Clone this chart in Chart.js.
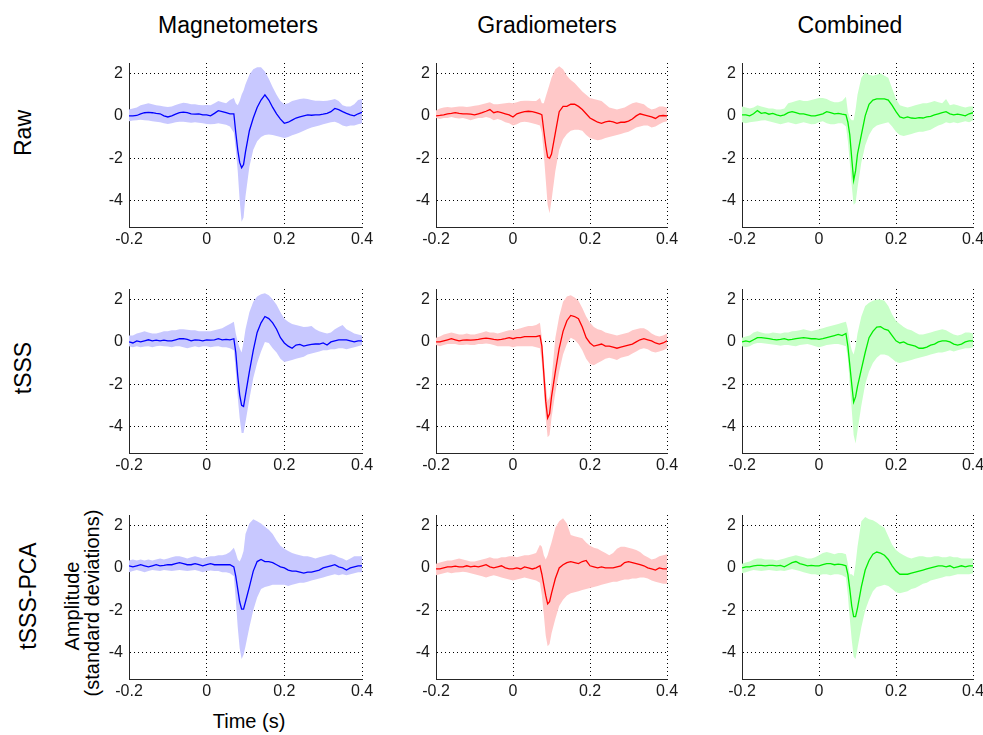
<!DOCTYPE html>
<html>
<head>
<meta charset="utf-8">
<title>Evoked responses</title>
<script src="https://cdn.jsdelivr.net/npm/chart.js@4.4.0/dist/chart.umd.min.js"></script>
<style>
  body { margin: 0; background: #fff; }
  #fig { position: relative; width: 983px; height: 735px; font-family: 'Liberation Sans', Arial, sans-serif; color: #000; }
  .panel { position: absolute; }
  .lbl { position: absolute; white-space: nowrap; transform: translate(-50%, -50%); line-height: 1; }
  .rot { transform: translate(-50%, -50%) rotate(-90deg); }
  .big { font-size: 23px; }
  .mid { font-size: 20px; }
</style>
</head>
<body>
<div id="fig">
  <div class="lbl big" style="left:238px; top:25px">Magnetometers</div>
  <div class="lbl big" style="left:547px; top:25px">Gradiometers</div>
  <div class="lbl big" style="left:850px; top:25px">Combined</div>

  <div class="lbl big rot" style="left:23px; top:133px">Raw</div>
  <div class="lbl big rot" style="left:23px; top:368px">tSSS</div>
  <div class="lbl big rot" style="left:28px; top:596px">tSSS-PCA</div>

  <div class="lbl mid rot" style="left:72px; top:606px">Amplitude</div>
  <div class="lbl mid rot" style="left:92px; top:603px">(standard deviations)</div>
  <div class="lbl mid" style="left:249px; top:721px">Time (s)</div>
</div>

<script>
// time axis (s)
const t = [
  -0.2, -0.19, -0.18, -0.17, -0.16, -0.15, -0.14, -0.13, -0.12, -0.11,
  -0.1, -0.09, -0.08, -0.07, -0.06, -0.05, -0.04, -0.03, -0.02, -0.01,
  0, 0.01, 0.02, 0.03, 0.04, 0.05, 0.06, 0.07, 0.075, 0.08,
  0.085, 0.09, 0.095, 0.1, 0.11, 0.12, 0.13, 0.14, 0.15, 0.16,
  0.17, 0.18, 0.19, 0.2, 0.21, 0.22, 0.23, 0.24, 0.25, 0.26,
  0.27, 0.28, 0.29, 0.3, 0.31, 0.32, 0.33, 0.34, 0.35, 0.36,
  0.37, 0.38, 0.39, 0.4
];

const xTicks = [-0.2, 0, 0.2, 0.4];
const xTickLabels = ['-0.2', '0', '0.2', '0.4'];
const yTicks = [-4, -2, 0, 2];
const yTickLabels = ['-4', '-2', '0', '2'];

const rowNames = ['Raw', 'tSSS', 'tSSS-PCA'];
const sensorNames = ['Magnetometers', 'Gradiometers', 'Combined'];

// ---- Raw ----
const magRawMean = [
  0, 0, 0.02, 0.1, 0.15, 0.17, 0.15, 0.12, 0.1, 0,
  -0.05, 0, 0.08, 0.15, 0.18, 0.15, 0.1, 0.08, 0.1, 0.05,
  0.05, 0, 0.12, 0.25, 0.2, 0.15, 0.1, 0.1, -0.8, -1.6,
  -2.2, -2.45, -2.3, -1.7, -0.7, -0.1, 0.4, 0.75, 1, 0.75,
  0.4, 0.1, -0.15, -0.35, -0.3, -0.2, -0.1, -0.05, 0, 0.05,
  0.03, 0.05, 0.05, 0.08, 0.12, 0.2, 0.35, 0.3, 0.2, 0.12,
  0.05, 0, 0.1, 0.17
];
const magRawHi = [
  0.3, 0.35, 0.4, 0.5, 0.55, 0.6, 0.55, 0.5, 0.48, 0.45,
  0.42, 0.45, 0.52, 0.58, 0.62, 0.6, 0.55, 0.55, 0.52, 0.5,
  0.52, 0.5, 0.6, 0.7, 0.65, 0.6, 0.75, 0.85, 0.6, 0.5,
  0.7, 1, 1.2, 1.5, 1.95, 2.2, 2.3, 2.3, 2.1, 1.75,
  1.35, 1, 0.7, 0.55, 0.6, 0.7, 0.75, 0.8, 0.82, 0.8,
  0.75, 0.72, 0.72, 0.7, 0.72, 0.75, 0.8, 0.7, 0.5, 0.45,
  0.45, 0.55, 0.75, 0.8
];
const magRawLo = [
  -0.25, -0.22, -0.2, -0.18, -0.2, -0.22, -0.25, -0.28, -0.3, -0.35,
  -0.38, -0.35, -0.3, -0.28, -0.28, -0.3, -0.32, -0.3, -0.32, -0.35,
  -0.38, -0.4, -0.38, -0.35, -0.38, -0.42, -0.5, -0.8, -1.6, -2.6,
  -4, -5, -4.8, -3.8, -2.4, -1.6, -1.2, -1, -0.9, -0.88,
  -0.9, -0.95, -1, -1.05, -1, -0.92, -0.85, -0.78, -0.7, -0.62,
  -0.55, -0.5, -0.45, -0.4, -0.35, -0.3, -0.28, -0.35, -0.45, -0.5,
  -0.45, -0.45, -0.4, -0.35
];

const gradRawMean = [
  0, 0.02, 0.05, 0.1, 0.12, 0.15, 0.12, 0.1, 0.1, 0.08,
  0.05, 0.1, 0.15, 0.22, 0.3, 0.15, 0.2, 0.15, 0.1, 0.05,
  -0.05, 0.1, 0.15, 0.2, 0.22, 0.2, 0.15, 0.1, 0.05, -0.7,
  -1.4, -1.95, -2, -1.8, -0.8, 0.2, 0.45, 0.45, 0.55, 0.55,
  0.45, 0.3, 0.1, -0.1, -0.2, -0.3, -0.35, -0.28, -0.25, -0.28,
  -0.35, -0.3, -0.3, -0.25, -0.15, 0, 0.1, 0.05, 0, -0.05,
  -0.12, 0, 0.02, 0
];
const gradRawHi = [
  0.25, 0.35, 0.4, 0.42, 0.4, 0.42, 0.45, 0.45, 0.42, 0.45,
  0.48, 0.5, 0.55, 0.6, 0.65, 0.55, 0.55, 0.58, 0.6, 0.62,
  0.6, 0.65, 0.7, 0.72, 0.72, 0.7, 0.7, 0.85, 0.6, 0.6,
  0.9, 1.2, 1.5, 1.8, 2.2, 2.35, 2.2, 1.9, 1.7, 1.55,
  1.35, 1.15, 1, 0.85, 0.8, 0.75, 0.7, 0.55, 0.4, 0.35,
  0.3, 0.35, 0.4, 0.5, 0.6, 0.65, 0.6, 0.55, 0.4, 0.3,
  0.35, 0.45, 0.45, 0.4
];
const gradRawLo = [
  -0.1, -0.15, -0.1, -0.1, -0.05, -0.1, -0.12, -0.1, -0.15, -0.2,
  -0.15, -0.1, -0.1, -0.05, -0.1, -0.2, -0.15, -0.2, -0.3, -0.35,
  -0.45, -0.4, -0.3, -0.28, -0.3, -0.35, -0.4, -0.45, -0.8, -1.8,
  -3, -4.2, -4.6, -4, -2.6, -1.6, -1.1, -0.85, -0.7, -0.65,
  -0.65, -0.7, -0.9, -1.05, -1.1, -1.15, -1.12, -1.05, -1, -0.95,
  -0.9, -0.85, -0.8, -0.75, -0.65, -0.55, -0.5, -0.45, -0.45, -0.55,
  -0.5, -0.4, -0.3, -0.25
];

const combRawMean = [
  0.05, 0.05, 0, 0.1, 0.25, 0.12, 0.15, 0.08, 0.12, 0.05,
  0, 0.05, 0.15, 0.2, 0.15, 0.1, 0.1, 0.05, 0, 0,
  0.05, 0.1, 0.2, 0.15, 0.1, 0.12, 0.08, 0.05, -0.3, -0.9,
  -2, -3.05, -2.6, -1.8, -0.9, 0, 0.55, 0.75, 0.8, 0.8,
  0.8, 0.75, 0.5, 0.2, -0.05, -0.1, -0.05, -0.1, -0.12, -0.08,
  -0.1, -0.05, -0.02, 0.05, 0.1, 0.15, 0.2, 0.1, 0.05, 0.08,
  0.05, 0, 0.1, 0.15
];
const combRawHi = [
  0.45, 0.4, 0.35, 0.4, 0.5, 0.45, 0.4, 0.35, 0.35, 0.3,
  0.3, 0.35, 0.6, 0.65, 0.7, 0.75, 0.7, 0.7, 0.75, 0.8,
  0.85, 0.85, 0.8, 0.7, 0.65, 0.65, 0.7, 0.9, 0.2, -0.1,
  -0.2, -0.2, 0.3, 1, 1.8, 2.05, 1.95, 1.9, 1.95, 2,
  1.9, 1.8, 1.3, 0.8, 0.5, 0.45, 0.4, 0.45, 0.5, 0.55,
  0.6, 0.6, 0.65, 0.7, 0.65, 0.6, 0.8, 0.5, 0.55, 0.5,
  0.45, 0.4, 0.45, 0.45
];
const combRawLo = [
  -0.3, -0.35, -0.3, -0.28, -0.25, -0.22, -0.2, -0.25, -0.3, -0.35,
  -0.4, -0.35, -0.3, -0.35, -0.4, -0.35, -0.3, -0.35, -0.4, -0.38,
  -0.3, -0.25, -0.35, -0.4, -0.4, -0.35, -0.35, -0.5, -1.2, -2.2,
  -3.3, -4.2, -4.1, -3.4, -2.2, -1.4, -0.9, -0.6, -0.45, -0.4,
  -0.35, -0.3, -0.5, -0.75, -0.9, -0.95, -0.9, -0.85, -0.8, -0.75,
  -0.75, -0.7, -0.65, -0.55, -0.45, -0.4, -0.3, -0.35, -0.3, -0.35,
  -0.3, -0.25, -0.3, -0.2
];

// ---- tSSS ----
const magTsssMean = [
  0, -0.05, 0.05, 0, 0.05, 0.1, 0.05, 0.08, 0.05, 0.08,
  0.05, 0.05, 0.1, 0.15, 0.15, 0.12, 0.05, 0.1, 0.08, 0.05,
  0.1, 0.08, 0.1, 0.15, 0.1, 0.12, 0.1, 0.15, -0.5, -1.6,
  -2.5, -3, -3.05, -2.5, -1.4, -0.4, 0.45, 0.9, 1.2, 1.1,
  0.9, 0.6, 0.2, -0.05, -0.2, -0.3, -0.15, -0.12, -0.2, -0.15,
  -0.12, -0.1, -0.1, -0.05, -0.15, 0, 0.05, 0.1, 0.1, 0.1,
  0.05, 0, 0.05, 0.05
];
const magTsssHi = [
  0.3, 0.3, 0.4, 0.45, 0.5, 0.45, 0.4, 0.4, 0.45, 0.5,
  0.5, 0.55, 0.55, 0.6, 0.6, 0.58, 0.55, 0.55, 0.5, 0.5,
  0.5, 0.5, 0.55, 0.6, 0.65, 0.75, 0.85, 0.95, 0.4, 0,
  -0.3, -0.5, 0, 0.6, 1.4, 1.9, 2.15, 2.25, 2.3, 2.2,
  2, 1.75, 1.4, 1.1, 0.95, 0.85, 0.8, 0.75, 0.7, 0.72,
  0.75, 0.6, 0.5, 0.45, 0.4, 0.45, 0.6, 0.7, 0.8, 0.6,
  0.5, 0.4, 0.35, 0.3
];
const magTsssLo = [
  -0.2, -0.25, -0.2, -0.25, -0.22, -0.2, -0.25, -0.2, -0.18, -0.2,
  -0.22, -0.25, -0.2, -0.2, -0.25, -0.3, -0.25, -0.2, -0.25, -0.2,
  -0.2, -0.25, -0.22, -0.2, -0.25, -0.25, -0.3, -0.4, -1.4, -2.6,
  -3.6, -4.3, -4.3, -3.8, -2.7, -1.7, -1, -0.45, 0, -0.05,
  -0.3, -0.5, -0.8, -0.95, -0.9, -0.85, -0.8, -0.75, -0.7, -0.6,
  -0.55, -0.5, -0.45, -0.4, -0.4, -0.35, -0.35, -0.3, -0.3, -0.35,
  -0.3, -0.25, -0.2, -0.15
];

const gradTsssMean = [
  0, 0, 0.05, 0.1, 0.15, 0.1, 0.05, 0.08, 0.1, 0.08,
  0.1, 0.12, 0.15, 0.18, 0.15, 0.12, 0.1, 0.12, 0.15, 0.2,
  0.15, 0.2, 0.2, 0.25, 0.25, 0.25, 0.25, 0.3, -0.2, -1.5,
  -2.8, -3.6, -3.4, -2.6, -1.4, -0.3, 0.5, 1, 1.25, 1.2,
  1.1, 0.7, 0.2, -0.05, -0.2, -0.15, -0.1, -0.2, -0.2, -0.25,
  -0.3, -0.25, -0.2, -0.15, -0.1, 0, 0.1, 0.15, 0.1, 0.05,
  -0.05, -0.1, -0.05, 0.05
];
const gradTsssHi = [
  0.2, 0.25, 0.35, 0.4, 0.45, 0.4, 0.35, 0.35, 0.4, 0.35,
  0.35, 0.4, 0.45, 0.5, 0.45, 0.45, 0.4, 0.45, 0.5, 0.55,
  0.55, 0.6, 0.65, 0.7, 0.75, 0.75, 0.8, 0.9, 0.2, -0.9,
  -2, -2.8, -2.6, -1.8, 0.2, 1.2, 1.9, 2.15, 2.2, 2.1,
  1.95, 1.6, 1.2, 0.9, 0.7, 0.6, 0.55, 0.45, 0.4, 0.35,
  0.3, 0.35, 0.4, 0.45, 0.55, 0.6, 0.65, 0.65, 0.55, 0.4,
  0.3, 0.25, 0.3, 0.4
];
const gradTsssLo = [
  -0.15, -0.2, -0.15, -0.1, -0.1, -0.1, -0.15, -0.15, -0.12, -0.15,
  -0.15, -0.1, -0.1, -0.08, -0.1, -0.15, -0.2, -0.2, -0.2, -0.2,
  -0.25, -0.2, -0.2, -0.2, -0.2, -0.2, -0.25, -0.3, -1, -2.2,
  -3.6, -4.5, -4.4, -3.6, -2.4, -1.4, -0.6, -0.1, 0.2, 0.1,
  -0.1, -0.4, -0.8, -1.05, -1.1, -1, -0.9, -0.8, -0.75, -0.8,
  -0.85, -0.75, -0.7, -0.65, -0.55, -0.45, -0.35, -0.3, -0.35, -0.45,
  -0.5, -0.45, -0.4, -0.3
];

const combTsssMean = [
  0, 0.05, 0, 0.1, 0.2, 0.2, 0.18, 0.15, 0.12, 0.1,
  0.12, 0.15, 0.1, 0.12, 0.15, 0.18, 0.2, 0.18, 0.15, 0.15,
  0.12, 0.15, 0.2, 0.25, 0.3, 0.35, 0.3, 0.4, -0.2, -1.1,
  -2, -2.85, -2.6, -2.1, -1.3, -0.5, 0.2, 0.5, 0.7, 0.72,
  0.6, 0.55, 0.3, 0.05, -0.05, 0, -0.1, -0.15, -0.2, -0.3,
  -0.3, -0.25, -0.15, -0.1, 0, 0.05, 0.05, 0, -0.1, -0.15,
  -0.1, 0, 0.05, 0.05
];
const combTsssHi = [
  0.2, 0.25, 0.3, 0.45, 0.5, 0.45, 0.4, 0.4, 0.45, 0.42,
  0.4, 0.45, 0.45, 0.5, 0.52, 0.55, 0.6, 0.55, 0.5, 0.55,
  0.6, 0.65, 0.7, 0.75, 0.8, 0.85, 0.9, 0.95, 0.6, 0,
  -0.4, -0.6, -0.2, 0.4, 1.2, 1.7, 1.85, 1.95, 2, 2,
  1.95, 1.7, 1.3, 1, 0.85, 0.7, 0.6, 0.55, 0.45, 0.35,
  0.35, 0.4, 0.45, 0.5, 0.55, 0.6, 0.55, 0.45, 0.35, 0.3,
  0.35, 0.45, 0.45, 0.4
];
const combTsssLo = [
  -0.2, -0.25, -0.2, -0.1, -0.05, -0.05, -0.08, -0.1, -0.12, -0.15,
  -0.18, -0.15, -0.15, -0.18, -0.2, -0.15, -0.12, -0.1, -0.15, -0.2,
  -0.25, -0.2, -0.15, -0.12, -0.1, -0.1, -0.15, -0.2, -0.8, -2,
  -3.2, -4.4, -4.8, -4.2, -3, -2, -1.4, -1, -0.75, -0.6,
  -0.6, -0.65, -0.8, -0.95, -1, -0.95, -0.9, -0.85, -0.8, -0.75,
  -0.7, -0.65, -0.6, -0.55, -0.5, -0.5, -0.45, -0.4, -0.45, -0.4,
  -0.35, -0.3, -0.3, -0.25
];

// ---- tSSS-PCA ----
const magPcaMean = [
  0.1, 0.05, 0.1, 0.15, 0.1, 0.05, 0.1, 0.15, 0.1, 0.12,
  0.15, 0.15, 0.2, 0.25, 0.2, 0.15, 0.15, 0.2, 0.15, 0.1,
  0.15, 0.2, 0.15, 0.15, 0.15, 0.15, 0.15, 0.05, -0.4, -1,
  -1.6, -1.95, -1.95, -1.6, -0.9, -0.15, 0.3, 0.4, 0.3, 0.3,
  0.25, 0.15, 0.05, 0, -0.1, -0.15, -0.15, -0.2, -0.25, -0.2,
  -0.2, -0.15, -0.1, 0, 0.05, 0.1, 0.15, 0.05, 0, -0.1,
  0, 0.05, 0.1, 0.1
];
const magPcaHi = [
  0.35, 0.4, 0.35, 0.4, 0.35, 0.4, 0.35, 0.4, 0.45, 0.4,
  0.45, 0.5, 0.55, 0.55, 0.5, 0.45, 0.5, 0.55, 0.5, 0.45,
  0.5, 0.55, 0.55, 0.6, 0.6, 0.65, 0.75, 0.95, 0.7, 0.4,
  0.3, 0.5, 0.8, 1.6, 2.1, 2.3, 2.2, 2.1, 1.95, 1.8,
  1.6, 1.3, 1.05, 0.9, 0.8, 0.7, 0.65, 0.6, 0.55, 0.55,
  0.5, 0.45, 0.5, 0.55, 0.6, 0.65, 0.6, 0.5, 0.45, 0.35,
  0.45, 0.55, 0.55, 0.55
];
const magPcaLo = [
  -0.2, -0.15, -0.1, -0.15, -0.2, -0.15, -0.1, -0.12, -0.15, -0.1,
  -0.12, -0.15, -0.12, -0.1, -0.12, -0.15, -0.12, -0.1, -0.15, -0.2,
  -0.15, -0.12, -0.15, -0.15, -0.2, -0.2, -0.25, -0.4, -1.5, -2.8,
  -3.8, -4.3, -4.1, -3.7, -2.8, -2, -1.4, -1, -0.9, -0.85,
  -0.8, -0.8, -0.8, -0.8, -0.85, -0.8, -0.75, -0.7, -0.7, -0.65,
  -0.6, -0.55, -0.5, -0.45, -0.4, -0.35, -0.3, -0.35, -0.3, -0.35,
  -0.3, -0.25, -0.2, -0.2
];

const gradPcaMean = [
  -0.05, -0.05, 0, 0.05, 0.05, 0.08, 0.05, 0.05, 0.1, 0.05,
  0.08, 0.05, 0.1, 0.15, 0.05, 0, 0.05, 0.1, 0, -0.05,
  -0.05, 0, -0.05, 0.05, 0, -0.05, 0, 0.1, -0.3, -0.8,
  -1.3, -1.7, -1.6, -1.2, -0.5, 0, 0.15, 0.25, 0.3, 0.25,
  0.2, 0.3, 0.35, 0.1, 0.05, 0, 0.05, 0, 0, 0,
  0.05, 0.1, 0.25, 0.3, 0.25, 0.2, 0.15, 0.1, 0, -0.05,
  -0.1, 0, -0.05, -0.05
];
const gradPcaHi = [
  0.2, 0.25, 0.3, 0.35, 0.35, 0.4, 0.45, 0.4, 0.35, 0.3,
  0.3, 0.35, 0.4, 0.45, 0.5, 0.45, 0.45, 0.5, 0.5, 0.55,
  0.55, 0.5, 0.55, 0.6, 0.6, 0.65, 0.7, 1.1, 1, 0.6,
  0.4, 0.6, 0.9, 1.2, 1.9, 2.2, 2.35, 2.1, 1.55, 1.5,
  1.45, 1.4, 1.2, 1.05, 0.95, 0.9, 0.8, 0.7, 0.6, 0.7,
  0.9, 1, 1, 0.95, 0.9, 0.85, 0.75, 0.6, 0.5, 0.4,
  0.45, 0.55, 0.6, 0.65
];
const gradPcaLo = [
  -0.35, -0.3, -0.25, -0.2, -0.25, -0.22, -0.2, -0.18, -0.2, -0.25,
  -0.3, -0.35, -0.4, -0.45, -0.4, -0.35, -0.4, -0.45, -0.5, -0.55,
  -0.6, -0.55, -0.5, -0.45, -0.5, -0.55, -0.6, -0.7, -1.3, -2.2,
  -3.2, -3.7, -3.6, -3.1, -2.4, -1.8, -1.5, -1.3, -1.2, -1.15,
  -1.1, -1.05, -1, -0.95, -0.9, -0.85, -0.8, -0.75, -0.7, -0.65,
  -0.65, -0.6, -0.55, -0.55, -0.5, -0.5, -0.45, -0.45, -0.5, -0.6,
  -0.65, -0.7, -0.75, -0.75
];

const combPcaMean = [
  0, 0.05, 0.05, 0.1, 0.12, 0.12, 0.1, 0.12, 0.12, 0.1,
  0.12, 0.05, 0.15, 0.25, 0.3, 0.2, 0.15, 0.1, 0.12, 0.1,
  0.1, 0.15, 0.2, 0.2, 0.15, 0.18, 0.15, 0.1, -0.3, -1,
  -1.8, -2.3, -2.3, -1.9, -0.9, -0.1, 0.35, 0.65, 0.75, 0.7,
  0.6, 0.4, 0.1, -0.15, -0.3, -0.3, -0.3, -0.25, -0.2, -0.15,
  -0.1, -0.05, 0, 0.05, 0.1, 0.1, 0.05, 0.1, 0, 0.05,
  0.1, 0.05, 0.1, 0.1
];
const combPcaHi = [
  0.2, 0.25, 0.3, 0.4, 0.45, 0.45, 0.4, 0.4, 0.4, 0.35,
  0.4, 0.45, 0.5, 0.55, 0.6, 0.55, 0.5, 0.45, 0.45, 0.5,
  0.6, 0.7, 0.75, 0.7, 0.65, 0.7, 0.7, 0.65, 0.2, -0.3,
  -0.3, -0.4, 0.2, 1, 2.2, 2.4, 2.3, 2.25, 2.15, 2,
  1.9, 1.5, 1.1, 0.85, 0.7, 0.6, 0.5, 0.45, 0.5, 0.55,
  0.55, 0.5, 0.5, 0.55, 0.55, 0.5, 0.5, 0.55, 0.5, 0.5,
  0.45, 0.45, 0.45, 0.45
];
const combPcaLo = [
  -0.25, -0.2, -0.15, -0.1, -0.12, -0.15, -0.12, -0.1, -0.12, -0.15,
  -0.12, -0.15, -0.1, -0.05, -0.1, -0.15, -0.2, -0.25, -0.3, -0.3,
  -0.35, -0.3, -0.3, -0.35, -0.3, -0.3, -0.35, -0.45, -1.3, -2.4,
  -3.4, -4.2, -4.3, -3.8, -2.8, -2, -1.5, -1.1, -0.9, -0.85,
  -0.8, -0.85, -1, -1.15, -1.2, -1.15, -1.1, -1, -0.95, -0.85,
  -0.75, -0.7, -0.6, -0.55, -0.5, -0.45, -0.4, -0.4, -0.35, -0.3,
  -0.3, -0.3, -0.3, -0.25
];

// one row per preprocessing stage, one column per sensor type
const panels = [
  [[magRawMean, magRawHi, magRawLo], [gradRawMean, gradRawHi, gradRawLo], [combRawMean, combRawHi, combRawLo]],
  [[magTsssMean, magTsssHi, magTsssLo], [gradTsssMean, gradTsssHi, gradTsssLo], [combTsssMean, combTsssHi, combTsssLo]],
  [[magPcaMean, magPcaHi, magPcaLo], [gradPcaMean, gradPcaHi, gradPcaLo], [combPcaMean, combPcaHi, combPcaLo]]
];

const lineColors = ['#0000ff', '#ff0000', '#00ee00'];
const bandColors = ['#c8c8ff', '#ffc8c8', '#c8ffc8'];

// plot-area placement on the page
const colLeft = [129, 436, 742];
const colWidth = [233, 231, 231];
const rowTop = [63, 289, 515];
const plotH = 164;
const Y_AXIS_W = 40, X_AXIS_H = 26, PAD_TOP = 18, PAD_RIGHT = 20;

Chart.defaults.font.family = "'Liberation Sans', Arial, sans-serif";
Chart.defaults.font.size = 16;
Chart.defaults.color = '#1a1a1a';

const toPoints = arr => t.map((x, i) => ({ x: x, y: arr[i] }));

function axisBase(ticks, labels) {
  return {
    type: 'linear',
    afterBuildTicks: s => { s.ticks = ticks.map(v => ({ value: v })); },
    ticks: {
      autoSkip: false,
      maxRotation: 0,
      callback: (v, i) => labels[i]
    },
    grid: { color: '#000', lineWidth: 1, drawTicks: false },
    border: { display: true, color: '#262626', width: 1, dash: [1, 3] }
  };
}

const fig = document.getElementById('fig');

panels.forEach((row, r) => {
  row.forEach(([mean, hi, lo], c) => {
    const box = document.createElement('div');
    box.className = 'panel';
    box.style.left = (colLeft[c] - Y_AXIS_W) + 'px';
    box.style.top = (rowTop[r] - PAD_TOP) + 'px';
    const canvas = document.createElement('canvas');
    canvas.width = Y_AXIS_W + colWidth[c] + PAD_RIGHT;
    canvas.height = PAD_TOP + plotH + X_AXIS_H;
    canvas.setAttribute('aria-label', rowNames[r] + ' ' + sensorNames[c]);
    box.appendChild(canvas);
    fig.appendChild(box);

    const xScale = axisBase(xTicks, xTickLabels);
    xScale.min = -0.2;
    xScale.max = 0.4;
    xScale.ticks.padding = 3;
    xScale.afterFit = s => { s.height = X_AXIS_H; s.paddingLeft = 0; s.paddingRight = 0; };

    const yScale = axisBase(yTicks, yTickLabels);
    yScale.min = -5.25;
    yScale.max = 2.5;
    yScale.ticks.padding = 6;
    yScale.afterFit = s => { s.width = Y_AXIS_W; s.paddingTop = 0; s.paddingBottom = 0; };

    new Chart(canvas.getContext('2d'), {
      type: 'line',
      data: {
        datasets: [
          // spread band: upper edge filled down to the lower edge
          { data: toPoints(hi), fill: '+1', backgroundColor: bandColors[c],
            borderColor: 'rgba(0,0,0,0)', borderWidth: 0, pointRadius: 0 },
          { data: toPoints(lo), fill: false,
            borderColor: 'rgba(0,0,0,0)', borderWidth: 0, pointRadius: 0 },
          // average response
          { data: toPoints(mean), fill: false, borderColor: lineColors[c],
            borderWidth: 1.3, pointRadius: 0, tension: 0 }
        ]
      },
      options: {
        responsive: false,
        animation: false,
        events: [],
        layout: { padding: { left: 0, top: PAD_TOP, right: PAD_RIGHT, bottom: 0 } },
        plugins: {
          legend: { display: false },
          tooltip: { enabled: false },
          filler: { drawTime: 'beforeDatasetsDraw' }
        },
        scales: { x: xScale, y: yScale }
      }
    });
  });
});
</script>
</body>
</html>
